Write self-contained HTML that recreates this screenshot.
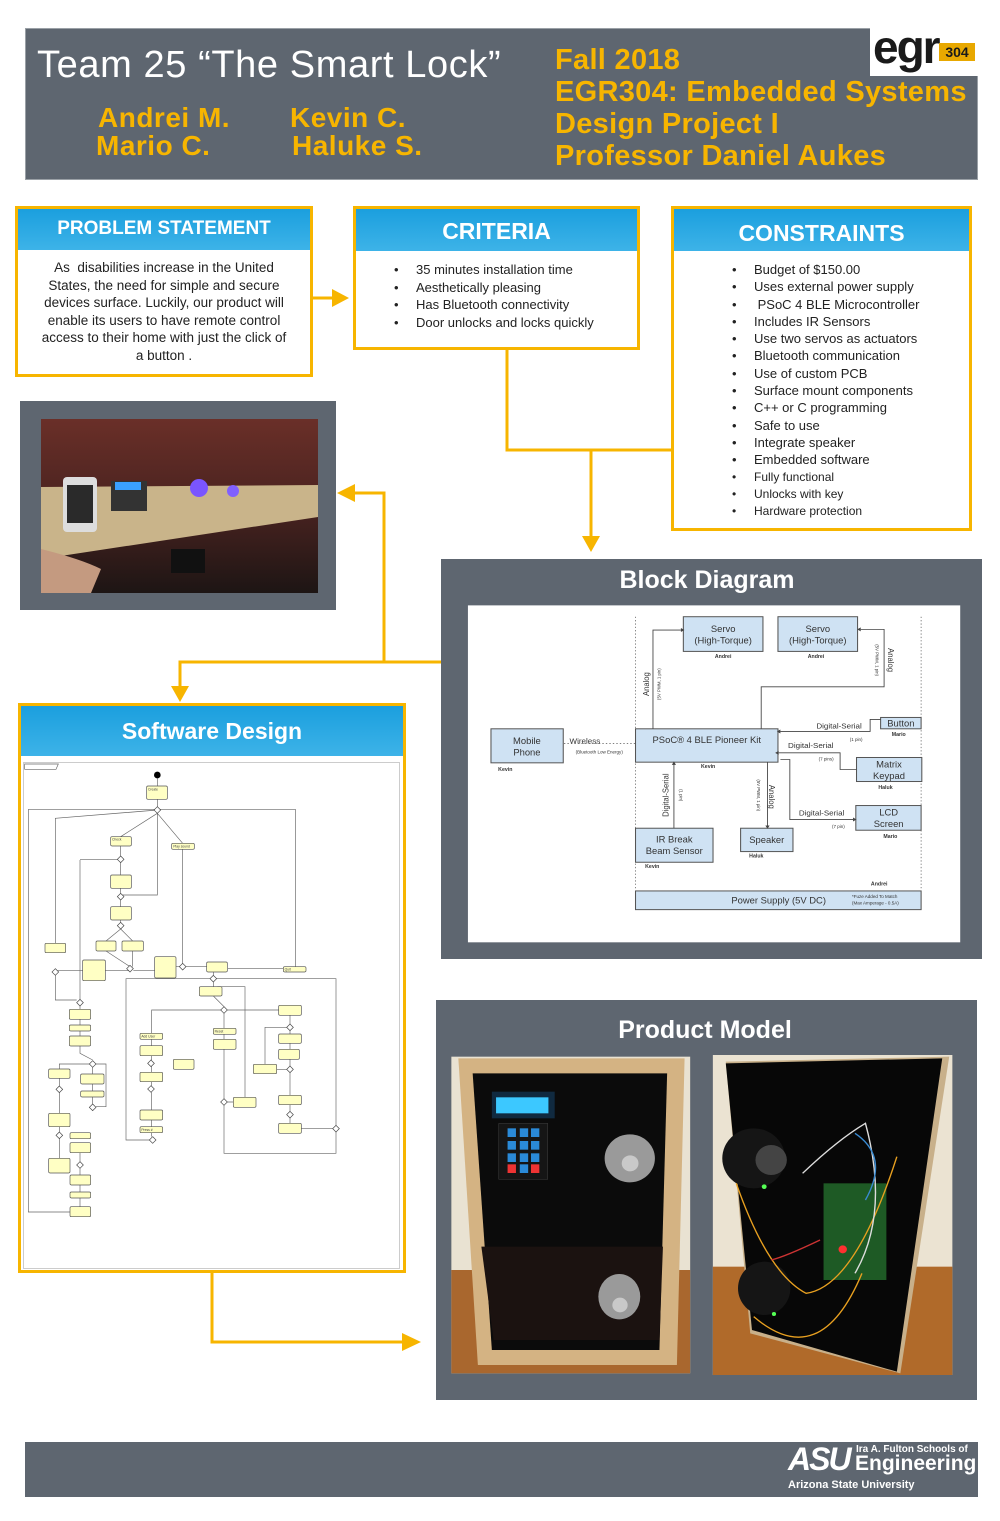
<!DOCTYPE html>
<html><head><meta charset="utf-8">
<style>
*{margin:0;padding:0;box-sizing:border-box}
body{width:1000px;height:1521px;background:#fff;position:relative;overflow:hidden;font-family:"Liberation Sans",sans-serif}
.a{position:absolute}
.gray{background:#5e6670}
.ybox{position:absolute;border:3px solid #f7b500;background:#fff}
.bh{position:absolute;left:0;right:0;top:0;background:linear-gradient(#1b9fde,#3db3e8);color:#fff;font-weight:bold;text-align:center}
ul{list-style:none}
li{position:relative;padding-left:22px}
li:before{content:"•";position:absolute;left:0}
.yl{color:#f7b500;font-weight:bold;position:absolute;white-space:nowrap}
</style></head><body>

<!-- header -->
<div class="a gray" style="left:25px;top:28px;width:953px;height:152px;border:1px solid #9aa0a6"></div>
<div class="a" style="left:37px;top:44px;color:#fff;font-size:38px;letter-spacing:0.6px;white-space:nowrap">Team 25 “The Smart Lock”</div>
<div class="yl" style="left:98px;top:102px;font-size:28px;letter-spacing:0.5px">Andrei M.</div>
<div class="yl" style="left:96px;top:130px;font-size:28px;letter-spacing:0.5px">Mario C.</div>
<div class="yl" style="left:290px;top:102px;font-size:28px;letter-spacing:0.5px">Kevin C.</div>
<div class="yl" style="left:292px;top:130px;font-size:28px;letter-spacing:0.5px">Haluke S.</div>
<div class="yl" style="left:555px;top:44px;font-size:29px;line-height:32px;letter-spacing:0.3px">Fall 2018<br>EGR304: Embedded Systems<br>Design Project I<br>Professor Daniel Aukes</div>
<div class="a" style="left:870px;top:28px;width:108px;height:48px;background:#fff"></div>
<div class="a" style="left:873px;top:20px;font-size:46px;font-weight:bold;color:#1a1a1a;letter-spacing:-2px">egr</div>
<div class="a" style="left:939px;top:43px;width:36px;height:18px;background:#e8a800;color:#1a1a1a;font-weight:bold;font-size:14px;text-align:center;line-height:18px">304</div>

<!-- problem statement -->
<div class="ybox" style="left:15px;top:206px;width:298px;height:171px">
<div class="bh" style="height:41px;font-size:19px;line-height:40px">PROBLEM STATEMENT</div>
<div class="a" style="left:20px;top:50px;width:252px;font-size:13.5px;line-height:17.5px;text-align:center;color:#222">As&nbsp; disabilities increase in the United States, the need for simple and secure devices surface. Luckily, our product will enable its users to have remote control access to their home with just the click of a button .</div>
</div>
<!-- criteria -->
<div class="ybox" style="left:353px;top:206px;width:287px;height:144px">
<div class="bh" style="height:42px;font-size:23px;line-height:44px">CRITERIA</div>
<ul class="a" style="left:38px;top:52px;font-size:13px;line-height:17.5px;color:#222">
<li>35 minutes installation time</li><li>Aesthetically pleasing</li><li>Has Bluetooth connectivity</li><li>Door unlocks and locks quickly</li></ul>
</div>
<!-- constraints -->
<div class="ybox" style="left:671px;top:206px;width:301px;height:325px">
<div class="bh" style="height:42px;font-size:23px;line-height:48px">CONSTRAINTS</div>
<ul class="a" style="left:58px;top:52px;font-size:13px;line-height:17.3px;color:#222">
<li>Budget of $150.00</li><li>Uses external power supply</li><li>&nbsp;PSoC 4 BLE Microcontroller</li><li>Includes IR Sensors</li><li>Use two servos as actuators</li><li>Bluetooth communication</li><li>Use of custom PCB</li><li>Surface mount components</li><li>C++ or C programming</li><li>Safe to use</li><li>Integrate speaker</li><li>Embedded software</li><li style="font-size:12px">Fully functional</li><li style="font-size:12px">Unlocks with key</li><li style="font-size:12px">Hardware protection</li></ul>
</div>

<!-- connectors -->
<svg class="a" style="left:0;top:0" width="1000" height="1521">
<g stroke="#f7b500" stroke-width="3" fill="none">
<path d="M312 298H336"/>
<path d="M507 349V450H671"/>
<path d="M591 450V540"/>
<path d="M441 662H384V493H352"/>
<path d="M384 662H180V688"/>
<path d="M212 1272V1342H405"/>
</g>
<g fill="#f7b500">
<path d="M332 289L349 298L332 307Z"/>
<path d="M582 536L591 552L600 536Z"/>
<path d="M355 484L337 493L355 502Z"/>
<path d="M171 686L180 702L189 686Z"/>
<path d="M402 1333L421 1342L402 1351Z"/>
</g>
</svg>

<!-- photo panel -->
<div class="a gray" style="left:20px;top:401px;width:316px;height:209px"></div>
<svg class="a" style="left:41px;top:419px" width="277" height="174">
<defs><linearGradient id="bg" x1="0" y1="0" x2="0" y2="1"><stop offset="0" stop-color="#6a2f28"/><stop offset="0.5" stop-color="#4a2320"/><stop offset="1" stop-color="#1d1514"/></linearGradient></defs>
<rect width="277" height="174" fill="url(#bg)"/>
<path d="M0 68L277 66L277 98L0 140Z" fill="#c9b48a"/>
<rect x="22" y="58" width="34" height="55" rx="4" fill="#ddd"/>
<rect x="26" y="66" width="26" height="38" fill="#2a2a2a"/>
<rect x="70" y="62" width="36" height="30" fill="#333"/>
<rect x="74" y="63" width="26" height="8" fill="#3aa0ff"/>
<circle cx="158" cy="69" r="9" fill="#7a55ff"/><circle cx="192" cy="72" r="6" fill="#8060ff"/>
<rect x="130" y="130" width="34" height="24" fill="#111"/>
<path d="M0 130Q40 140 60 150L50 174H0Z" fill="#c49a80"/>
</svg>

<!-- software design -->
<div class="ybox" style="left:18px;top:703px;width:388px;height:570px">
<div class="bh" style="height:50px;font-size:23px;line-height:50px">Software Design</div>
<div class="a" style="left:2px;top:56px;width:377px;height:507px;border:1px solid #ccc"></div>
</div>
<svg class="a" style="left:20px;top:760px" width="380" height="480" viewBox="0 0 1140 1440" preserveAspectRatio="none">
<g stroke="#666" stroke-width="2" fill="none">
<path d="M14 12H115L108 28H14Z"/>
<path d="M412 55V78M412 118V140M25 148H826V620M25 148V1356H150"/>
<path d="M412 160L302 230M412 160L488 250M412 160V405H302M302 258V288M302 308V345M302 385V400M302 420V440M302 480V490M302 507L258 543M302 507L338 543M258 573L330 620M338 573V620M330 632H256M340 632H404M188 632H106M106 550V175L412 150M106 646V720H170M180 300V720M302 298H180M468 620H560M488 615V268M180 738V748M180 778V795M180 813V828M180 858V880L218 900M218 922V1042M210 912H118V927M228 912H258V1040H228M118 955V980M118 996V1060M118 1100V1118M118 1134V1195M180 1178V1205M180 1225V1245M180 1275V1296M180 1314V1340M580 636V646M580 666V680M580 708L612 740M612 760V805M612 750H395V820M622 750H776M612 823V838M612 868V1016M622 1026H640M675 1012V680H592M395 838V857M395 887V900M395 920V937M395 965V977M395 997V1050M395 1080V1100M395 1118V1130M810 766V792M810 812V822M810 850V868M810 898V918M810 938V1006M810 1034V1054M810 1074V1090M844 1106H938M948 1116V1180H612V1036M948 1096V656H318V1140H388M624 626H790M700 928H800M735 913V802H800"/>
</g>
<circle cx="412" cy="45" r="10" fill="#000"/>
<g fill="#ffffc4" stroke="#555" stroke-width="2">
<rect x="380" y="78" width="62" height="40" rx="4"/><rect x="272" y="230" width="62" height="28" rx="4"/><rect x="455" y="250" width="68" height="18" rx="4"/><rect x="272" y="345" width="62" height="40" rx="4"/><rect x="272" y="440" width="62" height="40" rx="4"/><rect x="228" y="543" width="60" height="30" rx="4"/><rect x="306" y="543" width="64" height="30" rx="4"/><rect x="75" y="550" width="62" height="28" rx="4"/><rect x="188" y="600" width="68" height="62" rx="4"/><rect x="404" y="590" width="64" height="64" rx="4"/><rect x="560" y="606" width="62" height="30" rx="4"/><rect x="790" y="620" width="68" height="16" rx="4"/><rect x="538" y="680" width="68" height="28" rx="4"/><rect x="776" y="736" width="68" height="30" rx="4"/><rect x="148" y="748" width="64" height="30" rx="4"/><rect x="148" y="795" width="64" height="18" rx="4"/><rect x="148" y="828" width="64" height="30" rx="4"/><rect x="360" y="820" width="68" height="18" rx="4"/><rect x="580" y="805" width="68" height="18" rx="4"/><rect x="580" y="838" width="68" height="30" rx="4"/><rect x="776" y="822" width="68" height="28" rx="4"/><rect x="360" y="857" width="68" height="30" rx="4"/><rect x="776" y="868" width="62" height="30" rx="4"/><rect x="460" y="898" width="62" height="30" rx="4"/><rect x="86" y="927" width="64" height="28" rx="4"/><rect x="182" y="942" width="70" height="30" rx="4"/><rect x="700" y="913" width="70" height="28" rx="4"/><rect x="360" y="937" width="68" height="28" rx="4"/><rect x="182" y="993" width="70" height="18" rx="4"/><rect x="640" y="1012" width="68" height="30" rx="4"/><rect x="776" y="1006" width="68" height="28" rx="4"/><rect x="86" y="1060" width="64" height="40" rx="4"/><rect x="360" y="1050" width="68" height="30" rx="4"/><rect x="150" y="1118" width="62" height="18" rx="4"/><rect x="360" y="1100" width="68" height="18" rx="4"/><rect x="776" y="1090" width="68" height="30" rx="4"/><rect x="150" y="1148" width="62" height="30" rx="4"/><rect x="86" y="1195" width="64" height="44" rx="4"/><rect x="150" y="1245" width="62" height="30" rx="4"/><rect x="150" y="1296" width="62" height="18" rx="4"/><rect x="150" y="1340" width="62" height="30" rx="4"/>
</g>
<g fill="#fff" stroke="#444" stroke-width="2">
<path d="M412 140l10 10l-10 10l-10-10z"/><path d="M302 288l10 10l-10 10l-10-10z"/><path d="M302 400l10 10l-10 10l-10-10z"/><path d="M302 487l10 10l-10 10l-10-10z"/><path d="M330 616l10 10l-10 10l-10-10z"/><path d="M488 610l10 10l-10 10l-10-10z"/><path d="M106 626l10 10l-10 10l-10-10z"/><path d="M180 718l10 10l-10 10l-10-10z"/><path d="M580 646l10 10l-10 10l-10-10z"/><path d="M612 740l10 10l-10 10l-10-10z"/><path d="M810 792l10 10l-10 10l-10-10z"/><path d="M810 918l10 10l-10 10l-10-10z"/><path d="M218 902l10 10l-10 10l-10-10z"/><path d="M118 978l10 10l-10 10l-10-10z"/><path d="M218 1032l10 10l-10 10l-10-10z"/><path d="M393 900l10 10l-10 10l-10-10z"/><path d="M393 977l10 10l-10 10l-10-10z"/><path d="M612 1016l10 10l-10 10l-10-10z"/><path d="M810 1054l10 10l-10 10l-10-10z"/><path d="M948 1096l10 10l-10 10l-10-10z"/><path d="M118 1116l10 10l-10 10l-10-10z"/><path d="M180 1205l10 10l-10 10l-10-10z"/><path d="M398 1130l10 10l-10 10l-10-10z"/>
</g>
<g font-size="10" fill="#444" font-family="Liberation Sans,sans-serif">
<text x="384" y="92">Create</text><text x="276" y="242">Check</text><text x="460" y="263">Play sound</text><text x="794" y="632">Quit</text><text x="364" y="833">Add User</text><text x="584" y="818">Reset</text><text x="364" y="1113">Press #</text>
</g>
</svg>

<!-- block diagram panel -->
<div class="a gray" style="left:441px;top:559px;width:541px;height:400px"></div>
<div class="a" style="left:441px;top:566px;width:532px;text-align:center;color:#fff;font-weight:bold;font-size:25px">Block Diagram</div>
<svg class="a" style="left:440px;top:560px" width="545" height="400" viewBox="0 0 1561 1199" preserveAspectRatio="none">
<rect x="80" y="136" width="1410" height="1010" fill="#fff"/>
<g stroke="#555" stroke-width="2" stroke-dasharray="4 6" fill="none"><path d="M560 170V990M1378 170V990M355 550H565"/></g>
<g fill="#cfe2f3" stroke="#555" stroke-width="3">
<rect x="697" y="170" width="228" height="104"/><rect x="968" y="170" width="228" height="104"/>
<rect x="146" y="506" width="207" height="102"/><rect x="560" y="506" width="408" height="100"/>
<rect x="1262" y="472" width="116" height="34"/><rect x="1193" y="592" width="187" height="72"/>
<rect x="1191" y="736" width="187" height="74"/><rect x="560" y="804" width="222" height="102"/>
<rect x="861" y="804" width="150" height="70"/><rect x="560" y="992" width="818" height="56"/>
</g>
<g stroke="#444" stroke-width="2.5" fill="none">
<path d="M610 506V210H690M920 506V380H1272V208H1205M1262 478H1232V514H975M1193 628H1146V578H970M670 804V612M938 606V798M975 598H1002V778H1183"/>
</g>
<g fill="#444">
<path d="M690 204l10 6l-10 6z"/><path d="M1205 202l-10 6l10 6z"/><path d="M975 508l-10 6l10 6z"/><path d="M970 572l-10 6l10 6z"/><path d="M664 614l6-10l6 10z"/><path d="M932 796l6 10l6-10z"/><path d="M1183 772l10 6l-10 6z"/>
</g>
<g font-family="Liberation Sans,sans-serif" fill="#333" text-anchor="middle">
<g font-size="27"><text x="811" y="216">Servo</text><text x="811" y="250">(High-Torque)</text><text x="1082" y="216">Servo</text><text x="1082" y="250">(High-Torque)</text>
<text x="249" y="552">Mobile</text><text x="249" y="586">Phone</text><text x="764" y="548">PSoC® 4 BLE Pioneer Kit</text><text x="1320" y="499">Button</text>
<text x="1286" y="622">Matrix</text><text x="1286" y="656">Keypad</text><text x="1285" y="766">LCD</text><text x="1285" y="800">Screen</text>
<text x="671" y="847">IR Break</text><text x="671" y="881">Beam Sensor</text><text x="936" y="849">Speaker</text><text x="970" y="1030">Power Supply (5V DC)</text>
<text x="415" y="550" font-size="23">Wireless</text><text x="1143" y="505" font-size="23">Digital-Serial</text><text x="1062" y="564" font-size="23">Digital-Serial</text><text x="1093" y="766" font-size="23">Digital-Serial</text></g>
<g font-size="15" font-weight="bold"><text x="811" y="294">Andrei</text><text x="1077" y="294">Andrei</text><text x="187" y="633">Kevin</text><text x="768" y="624">Kevin</text><text x="1314" y="527">Mario</text><text x="1276" y="687">Haluk</text><text x="1290" y="834">Mario</text><text x="608" y="923">Kevin</text><text x="906" y="892">Haluk</text><text x="1258" y="976">Andrei</text></g>
<g font-size="13"><text x="456" y="580">(Bluetooth Low Energy)</text><text x="1192" y="543">(1 pin)</text><text x="1106" y="601">(7 pins)</text><text x="1141" y="803">(7 pin)</text><text x="1245" y="1013">*Fuze Added To Match</text><text x="1247" y="1032">(Max Amperage - 0.5A)</text></g>
<text transform="translate(598 372) rotate(-90)" font-size="23">Analog</text>
<text transform="translate(1283 300) rotate(90)" font-size="23">Analog</text>
<text transform="translate(943 710) rotate(90)" font-size="23">Analog</text>
<text transform="translate(655 705) rotate(-90)" font-size="23">Digital-Serial</text>
<text transform="translate(632 372) rotate(-90)" font-size="13">(5V PWM, 1 pin)</text>
<text transform="translate(1247 300) rotate(90)" font-size="13">(5V PWM, 1 pin)</text>
<text transform="translate(908 705) rotate(90)" font-size="13">(5V PWM, 1 pin)</text>
<text transform="translate(686 705) rotate(90)" font-size="13">(1 pin)</text>
</g>
</svg>

<!-- product model -->
<div class="a gray" style="left:436px;top:1000px;width:541px;height:400px"></div>
<div class="a" style="left:436px;top:1016px;width:538px;text-align:center;color:#fff;font-weight:bold;font-size:25px">Product Model</div>
<svg class="a" style="left:436px;top:1040px" width="545" height="340" viewBox="0 0 1561 1020" preserveAspectRatio="none">
<rect x="44" y="50" width="684" height="950" fill="#e9e2d2"/>
<rect x="44" y="690" width="684" height="310" fill="#a9672e"/>
<path d="M64 55H712L690 975H120Z" fill="#d4b383"/>
<path d="M105 100H662L640 930H160Z" fill="#0b0b0b"/>
<path d="M130 620H650L640 900H165Z" fill="#1b1210"/>
<rect x="160" y="155" width="180" height="80" fill="#102a40"/><rect x="172" y="172" width="150" height="48" fill="#3cc8ff"/>
<rect x="180" y="250" width="140" height="168" fill="#151515" stroke="#555"/>
<g fill="#2a8ad8"><rect x="205" y="265" width="24" height="26"/><rect x="240" y="265" width="24" height="26"/><rect x="272" y="265" width="24" height="26"/><rect x="205" y="303" width="24" height="26"/><rect x="240" y="303" width="24" height="26"/><rect x="272" y="303" width="24" height="26"/><rect x="205" y="340" width="24" height="26"/><rect x="240" y="340" width="24" height="26"/><rect x="272" y="340" width="24" height="26"/><rect x="240" y="373" width="24" height="26"/></g>
<rect x="205" y="373" width="24" height="26" fill="#e33"/><rect x="272" y="373" width="24" height="26" fill="#e33"/>
<ellipse cx="555" cy="355" rx="72" ry="72" fill="#9a9a9a"/><circle cx="556" cy="370" r="24" fill="#c9c9c9"/>
<ellipse cx="525" cy="770" rx="60" ry="68" fill="#9a9a9a"/><circle cx="527" cy="795" r="22" fill="#c9c9c9"/>
<rect x="793" y="45" width="686" height="960" fill="#ebe3d2"/>
<rect x="793" y="680" width="686" height="325" fill="#b06a2a"/>
<path d="M830 65L1470 50L1330 1000L900 880Z" fill="#c8b08a"/>
<path d="M830 70L1450 55L1320 995L905 870Z" fill="#070707"/>
<rect x="1110" y="430" width="180" height="290" fill="#1e5a25"/>
<ellipse cx="910" cy="355" rx="90" ry="90" fill="#151515"/><circle cx="960" cy="360" r="45" fill="#444"/>
<ellipse cx="940" cy="745" rx="75" ry="80" fill="#151515"/>
<g fill="none" stroke-width="4"><path d="M860 430Q950 700 1060 760Q1200 740 1320 350" stroke="#e8a020"/><path d="M1050 400Q1150 300 1230 250Q1300 520 1200 700" stroke="#ddd"/><path d="M1100 600Q1000 650 960 660" stroke="#c33"/><path d="M910 830Q1100 1000 1220 700" stroke="#e8a020"/><path d="M1200 280Q1300 350 1230 480" stroke="#3a8ad0"/></g>
<circle cx="1165" cy="628" r="12" fill="#ff3030"/><circle cx="940" cy="440" r="7" fill="#5f5"/><circle cx="968" cy="822" r="6" fill="#5f5"/>
</svg>

<!-- footer -->
<div class="a gray" style="left:25px;top:1442px;width:953px;height:55px"></div>
<div class="a" style="left:788px;top:1441px;color:#fff;font-weight:bold;font-size:32px;font-style:italic;letter-spacing:-2px">ASU</div>
<div class="a" style="left:856px;top:1444px;color:#fff;font-weight:bold;font-size:10px">Ira A. Fulton Schools of</div>
<div class="a" style="left:855px;top:1452px;color:#fff;font-weight:bold;font-size:21px">Engineering</div>
<div class="a" style="left:788px;top:1479px;color:#fff;font-weight:bold;font-size:11px">Arizona State University</div>
</body></html>
